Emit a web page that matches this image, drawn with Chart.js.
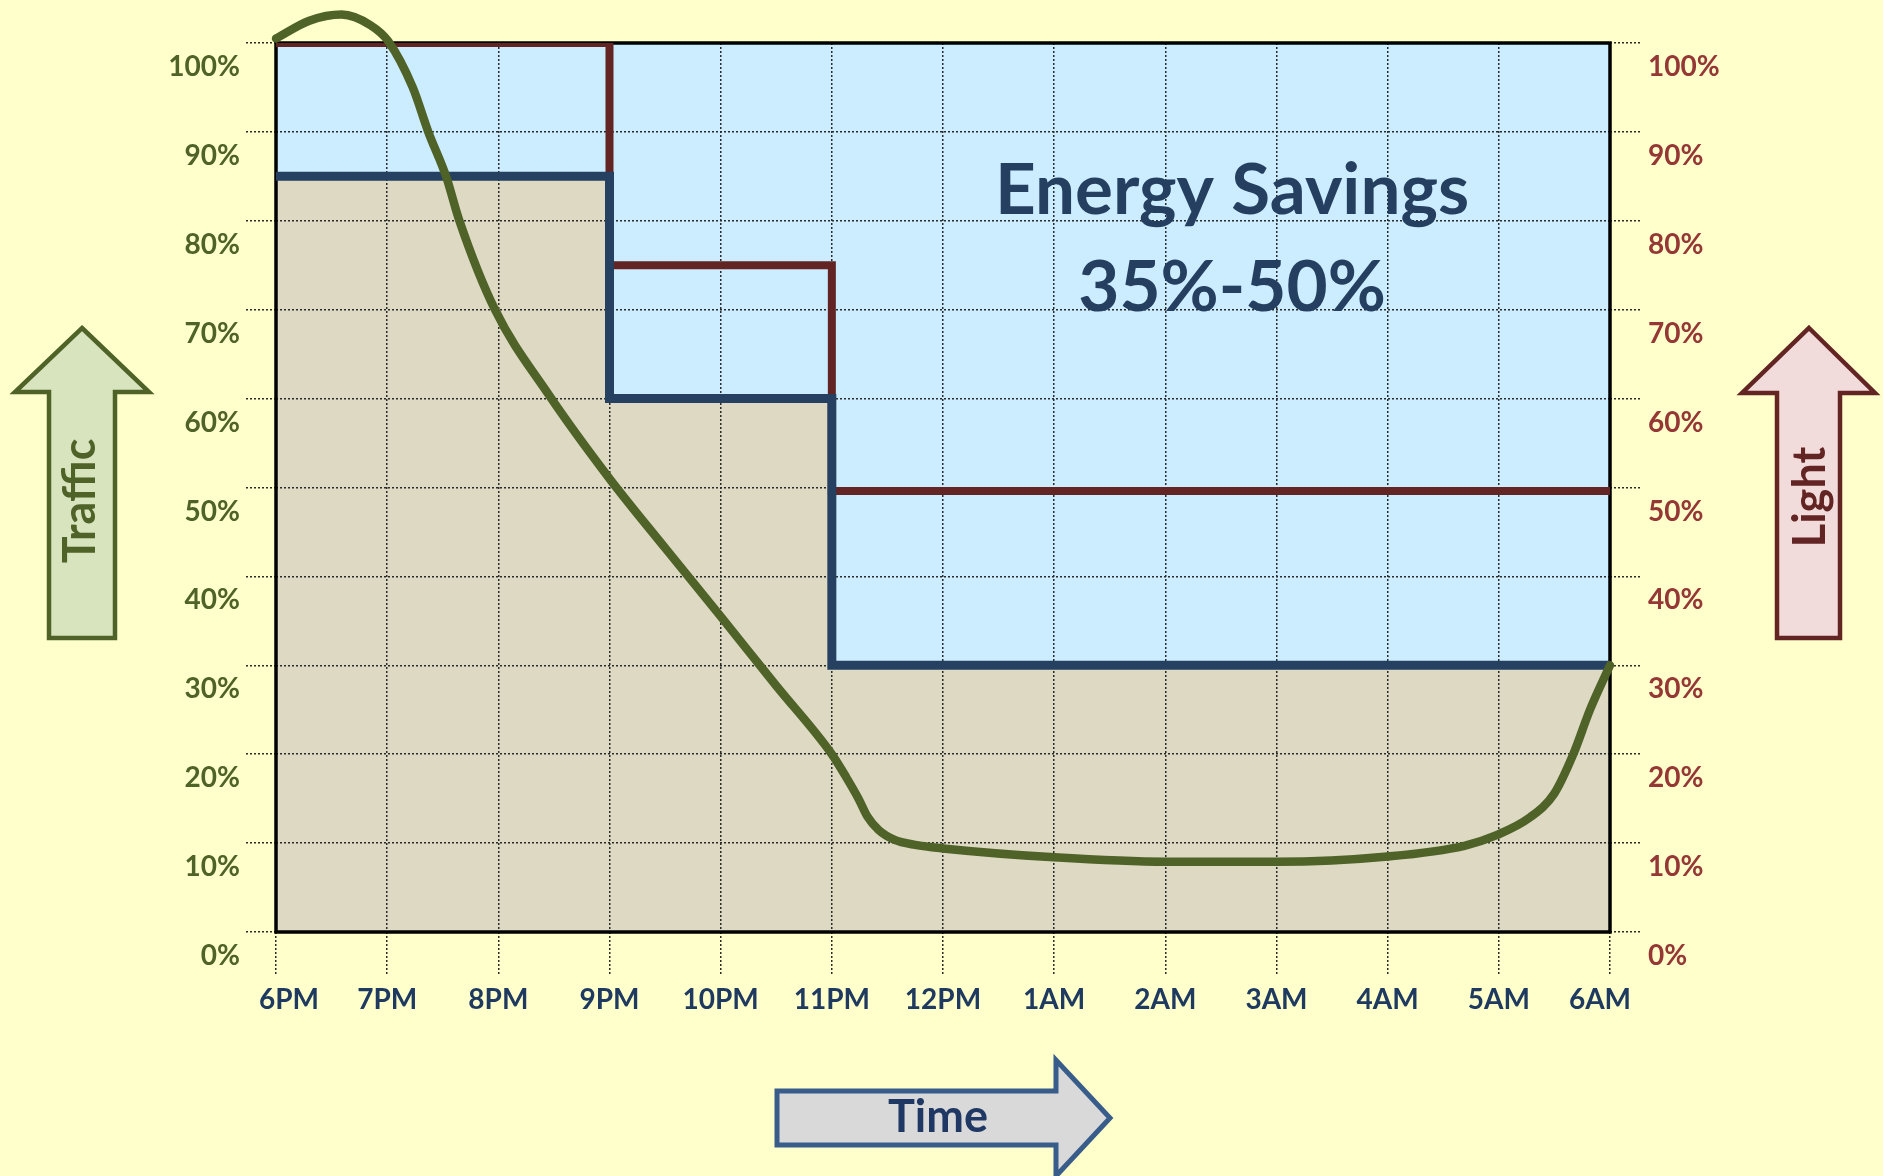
<!DOCTYPE html>
<html><head><meta charset="utf-8">
<script src="https://cdn.jsdelivr.net/npm/chart.js@4.4.1/dist/chart.umd.min.js"></script>
<style>
html,body{margin:0;padding:0;background:#FFFFCC;overflow:hidden;}
#wrap{position:relative;width:1883px;height:1176px;}
canvas{display:block;}
</style></head><body>
<div id="wrap"><canvas id="c" width="1883" height="1176"></canvas></div>
<script>
// ---- data ----
const xTickLabels = ['6PM','7PM','8PM','9PM','10PM','11PM','12PM','1AM','2AM','3AM','4AM','5AM','6AM'];
const trafficHours  = [0, 0.3, 0.59, 0.85, 1.01, 1.23, 1.37, 1.53, 1.65, 1.97, 2.45, 3.0, 3.5, 4.0, 4.5, 5.0, 5.13, 5.24, 5.32, 5.42, 5.56, 5.75, 6.0, 7.0, 8.0, 9.0, 10.0, 10.69, 10.98, 11.27, 11.5, 11.67, 11.82, 12];
const trafficValues = [100.5, 102.5, 103.2, 102, 100.2, 95, 90, 85, 80, 70, 60.5, 51, 43.2, 35.5, 27.7, 20, 17.4, 15, 13, 11.5, 10.4, 9.8, 9.4, 8.4, 7.9, 7.9, 8.5, 9.7, 10.9, 12.8, 15.6, 20, 25, 30];
const stepHours = [0, 3, 5, 12];
const lightHighValues = [100, 75, 49.6, 49.6];   // dark red step
const lightLowValues  = [85, 60, 30, 30];        // dark blue step
const savingsLines = ['Energy Savings', '35%-50%'];

// ---- build points ----
const pts = (xs, ys) => xs.map((x, i) => ({x: x, y: ys[i]}));

const FONT = "Lato, 'Open Sans', sans-serif";
Chart.defaults.font.family = FONT;

function arrowPath(ctx, p) {
  ctx.beginPath();
  ctx.moveTo(p[0][0], p[0][1]);
  for (let i = 1; i < p.length; i++) ctx.lineTo(p[i][0], p[i][1]);
  ctx.closePath();
}
function drawArrow(ctx, p, fill, stroke, lw) {
  ctx.save();
  arrowPath(ctx, p);
  ctx.fillStyle = fill; ctx.fill();
  ctx.lineWidth = lw; ctx.strokeStyle = stroke; ctx.lineJoin = 'miter';
  ctx.stroke();
  ctx.restore();
}
function drawText(ctx, txt, x, y, font, color, rot) {
  ctx.save();
  ctx.translate(x, y);
  if (rot) ctx.rotate(rot);
  ctx.font = font; ctx.fillStyle = color;
  ctx.textAlign = 'center'; ctx.textBaseline = 'middle';
  ctx.fillText(txt, 0, 0);
  ctx.restore();
}

const decor = {
  id: 'decor',
  beforeDraw(chart) {
    const sx = chart.scales.x;
    const items = sx.getLabelItems(chart.chartArea);
    if (items && items.length && !items._shifted) {
      items[0].options.translation[0] += 13;
      items[items.length - 1].options.translation[0] -= 10;
      items._shifted = true;
    }
  },
  beforeDatasetsDraw(chart) {
    const {ctx, chartArea: a} = chart;
    ctx.save();
    ctx.strokeStyle = '#000';
    ctx.lineWidth = 3.5;
    ctx.strokeRect(a.left, a.top, a.right - a.left, a.bottom - a.top);
    ctx.restore();
  },
  afterDraw(chart) {
    const ctx = chart.ctx;
    const sx = chart.scales.x, sy = chart.scales.y;
    // annotation text in the savings area
    const tx = sx.getPixelForValue(8.6);
    drawText(ctx, savingsLines[0], tx, sy.getPixelForValue(83.3), 'bold 71px ' + FONT, '#253F60');
    drawText(ctx, savingsLines[1], tx, sy.getPixelForValue(72.4), 'bold 71px ' + FONT, '#253F60');
    // Traffic arrow
    drawArrow(ctx, [[82,328],[149,392],[115,392],[115,638],[49,638],[49,392],[15,392]], '#D7E4BD', '#4F6228', 4.5);
    drawText(ctx, 'Traffic', 80, 501, 'bold 45px ' + FONT, '#4F6228', -Math.PI/2);
    // Light arrow
    drawArrow(ctx, [[1809,328],[1875,393],[1840,393],[1840,638],[1777,638],[1777,393],[1742,393]], '#F2DCDB', '#632523', 4.5);
    drawText(ctx, 'Light', 1810, 497, 'bold 45px ' + FONT, '#632523', -Math.PI/2);
    // Time arrow
    drawArrow(ctx, [[777,1091],[1056,1091],[1056,1060],[1110,1118],[1056,1176],[1056,1145],[777,1145]], '#D9D9D9', '#385D8A', 5);
    drawText(ctx, 'Time', 938, 1117, 'bold 45px ' + FONT, '#203864');
  }
};

const gridCommon = {
  color: '#2b2b2b', lineWidth: 1.5,
  tickColor: '#2b2b2b', tickWidth: 1.5, tickBorderDash: [2, 2]
};

new Chart(document.getElementById('c'), {
  type: 'line',
  data: {
    datasets: [
      {
        label: 'Traffic',
        data: pts(trafficHours, trafficValues),
        yAxisID: 'y',
        borderColor: '#4F6228', borderWidth: 8.5,
        cubicInterpolationMode: 'monotone',
        pointRadius: 0, fill: false, clip: false,
        borderCapStyle: 'round', borderJoinStyle: 'round'
      },
      {
        label: 'Light (dimmed)',
        data: pts(stepHours, lightLowValues),
        yAxisID: 'y2',
        borderColor: '#254061', borderWidth: 9,
        stepped: 'before', pointRadius: 0,
        fill: 'origin', backgroundColor: '#DDD9C3'
      },
      {
        label: 'Light (standard)',
        data: pts(stepHours, lightHighValues),
        yAxisID: 'y2',
        borderColor: '#632523', borderWidth: 8,
        stepped: 'before', pointRadius: 0, fill: false
      },
      {
        label: 'Savings',
        data: pts(stepHours, lightLowValues),
        yAxisID: 'y2',
        borderWidth: 0, borderColor: 'rgba(0,0,0,0)',
        stepped: 'before', pointRadius: 0,
        fill: 'end', backgroundColor: '#CCECFF'
      }
    ]
  },
  options: {
    responsive: false,
    animation: false,
    devicePixelRatio: 1,
    layout: {padding: {top: 43, left: 0, right: 0, bottom: 0}},
    plugins: {
      legend: {display: false},
      tooltip: {enabled: false},
      filler: {drawTime: 'beforeDraw'}
    },
    scales: {
      x: {
        type: 'linear', min: 0, max: 12,
        afterFit: s => { s.height = 244; },
        grid: Object.assign({}, gridCommon, {tickLength: 44}),
        border: {display: false, dash: [2, 2]},
        ticks: {
          stepSize: 1, autoSkip: false, maxRotation: 0, padding: 7,
          color: '#1F3A60', font: {size: 28, weight: 'bold'},
          callback: v => xTickLabels[v]
        }
      },
      y: {
        position: 'left', min: 0, max: 100,
        afterFit: s => { s.width = 276; },
        grid: Object.assign({}, gridCommon, {tickLength: 30}),
        border: {display: false, dash: [2, 2]},
        ticks: {
          stepSize: 10, padding: 6, labelOffset: 24,
          color: '#4F6228', font: {size: 28, weight: 'bold'},
          callback: v => v + '%'
        }
      },
      y2: {
        position: 'right', min: 0, max: 100,
        afterFit: s => { s.width = 273; },
        grid: Object.assign({}, gridCommon, {tickLength: 30, drawOnChartArea: false}),
        border: {display: false, dash: [2, 2]},
        ticks: {
          stepSize: 10, padding: 8, labelOffset: 24,
          color: '#953735', font: {size: 28, weight: 'bold'},
          callback: v => v + '%'
        }
      }
    }
  },
  plugins: [decor]
});
</script>
</body></html>
